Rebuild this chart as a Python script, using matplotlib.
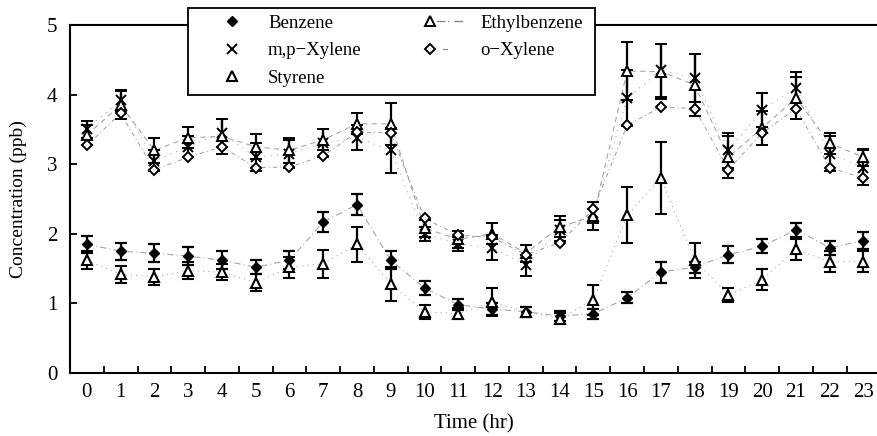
import matplotlib
matplotlib.use("Agg")
import matplotlib.pyplot as plt
from matplotlib.lines import Line2D
from matplotlib.patches import Rectangle
from matplotlib.legend_handler import HandlerLine2DCompound
import numpy as np

plt.rcParams['font.family'] = ['Liberation Serif', 'DejaVu Serif']

hours = list(range(24))

benzene = [1.85, 1.75, 1.72, 1.68, 1.62, 1.52, 1.62, 2.17, 2.42, 1.62, 1.22, 0.98,
           0.92, 0.88, 0.82, 0.85, 1.08, 1.45, 1.52, 1.70, 1.82, 2.06, 1.80, 1.90]
benzene_err = [0.12, 0.12, 0.13, 0.13, 0.13, 0.10, 0.13, 0.15, 0.15, 0.13, 0.10, 0.08,
               0.08, 0.07, 0.07, 0.07, 0.08, 0.15, 0.08, 0.12, 0.10, 0.10, 0.10, 0.12]

styrene = [1.62, 1.42, 1.38, 1.47, 1.45, 1.30, 1.52, 1.57, 1.85, 1.28, 0.88, 0.85,
           1.02, 0.88, 0.78, 1.05, 2.27, 2.80, 1.62, 1.12, 1.34, 1.78, 1.60, 1.60]
styrene_err = [0.13, 0.12, 0.12, 0.12, 0.12, 0.12, 0.15, 0.20, 0.25, 0.25, 0.10, 0.08,
               0.20, 0.07, 0.08, 0.22, 0.40, 0.52, 0.25, 0.10, 0.15, 0.15, 0.15, 0.15]

mp_xylene = [3.50, 3.92, 3.05, 3.25, 3.45, 3.10, 3.15, 3.30, 3.38, 3.20, 2.00, 1.85,
             1.80, 1.55, 2.05, 2.30, 3.95, 4.35, 4.24, 3.20, 3.78, 4.10, 3.15, 2.95]
mp_xylene_err = [0.12, 0.15, 0.15, 0.15, 0.20, 0.20, 0.20, 0.20, 0.18, 0.32, 0.10, 0.10,
                 0.18, 0.15, 0.15, 0.15, 0.40, 0.38, 0.35, 0.25, 0.25, 0.22, 0.25, 0.25]

ethylbenzene = [3.42, 3.85, 3.20, 3.38, 3.40, 3.25, 3.20, 3.35, 3.58, 3.58, 2.08, 1.92,
                2.00, 1.72, 2.10, 2.25, 4.34, 4.33, 4.14, 3.10, 3.52, 3.95, 3.30, 3.10]
ethylbenzene_err = [0.15, 0.20, 0.18, 0.15, 0.25, 0.18, 0.18, 0.15, 0.15, 0.30, 0.12, 0.12,
                    0.15, 0.12, 0.15, 0.20, 0.42, 0.40, 0.45, 0.30, 0.25, 0.30, 0.15, 0.12]

o_xylene = [3.27, 3.73, 2.92, 3.10, 3.25, 2.95, 2.96, 3.12, 3.46, 3.45, 2.22, 1.98,
            1.95, 1.70, 1.87, 2.35, 3.56, 3.82, 3.80, 2.92, 3.45, 3.80, 2.95, 2.80]

x_ticklabels = [str(h) for h in hours]
y_ticks = [0, 1, 2, 3, 4, 5]
series_labels = ['Benzene', 'm,p\u2212Xylene', 'Styrene', 'Ethylbenzene', 'o\u2212Xylene']

W, H = 877, 436
fig = plt.figure(figsize=(W / 100, H / 100), dpi=100)
ax = fig.add_axes([70 / W, 1 - 373 / H, 1 - 70 / W, (373 - 25) / H])

LC = '#a0a0a0'
line_kw = dict(color=LC, lw=0.75, zorder=1)
ax.plot(hours, benzene, ls=(0, (6, 3, 1, 3)), **line_kw)
ax.plot(hours, styrene, ls=(0, (1, 4)), **line_kw)
ax.plot(hours, mp_xylene, ls=(0, (1, 5)), **line_kw)
ax.plot(hours, ethylbenzene, ls=(0, (5, 4)), **line_kw)
ax.plot(hours, o_xylene, ls=(0, (4, 3, 1, 3)), **line_kw)

eb_kw = dict(ecolor='black', elinewidth=1.6, capsize=4.5, capthick=1.6, ls='none', zorder=3)
ax.errorbar(hours, benzene, yerr=benzene_err, fmt='D', ms=5.5, mfc='black', mec='black', **eb_kw)
ax.errorbar(hours, styrene, yerr=styrene_err, fmt='^', ms=7, mfc='white', mec='black', mew=1.5, **eb_kw)
ax.errorbar(hours, mp_xylene, yerr=mp_xylene_err, fmt='x', ms=7, mec='black', mew=1.4, **eb_kw)
ax.errorbar(hours, ethylbenzene, yerr=ethylbenzene_err, fmt='^', ms=7, mfc='white', mec='black', mew=1.4, **eb_kw)
ax.plot(hours, o_xylene, 'D', ms=5.5, mfc='white', mec='black', mew=1.4, ls='none', zorder=4)

ax.set_xlim(-0.5, 23.4)
ax.set_ylim(0, 5)
ax.set_xticks(hours)
ax.set_xticklabels(x_ticklabels)
ax.set_xticks(np.arange(0.5, 23.5, 1), minor=True)
ax.tick_params(axis='x', which='major', length=0, labelsize=15, pad=7)
ax.tick_params(axis='x', which='minor', direction='in', length=5, width=1.3)
ax.set_yticks(y_ticks)
ax.tick_params(axis='y', which='major', direction='in', length=5, width=1.3, labelsize=15, pad=9)
ax.spines['right'].set_visible(False)
for s in ['left', 'bottom', 'top']:
    ax.spines[s].set_linewidth(1.5)

ax.set_xlabel('Time (hr)', fontsize=15, va='center')
ax.set_ylabel('Concentration (ppb)', fontsize=14, va='center')
ax.xaxis.set_label_coords(0.5, (373 - 424) / 348)
ax.yaxis.set_label_coords(-0.064, 0.5)


class MarkerHandler(HandlerLine2DCompound):
    def __init__(self, fm, fl=None, **kw):
        super().__init__(**kw)
        self.fm = fm
        self.fl = fl

    def get_xdata(self, legend, xdescent, ydescent, width, height, fontsize):
        xm = -xdescent + self.fm * width
        xe = -xdescent + (self.fl if self.fl else self.fm) * width
        return np.array([xm, xe]), np.array([xm])


handles = [
    Line2D([], [], marker='D', ms=5.5, mfc='black', mec='black', ls='none'),
    Line2D([], [], marker='x', ms=7, mec='black', mew=1.4, ls='none'),
    Line2D([], [], marker='^', ms=7, mfc='white', mec='black', mew=1.5, ls='none'),
    Line2D([], [], marker='^', ms=7, mfc='white', mec='black', mew=1.4, color='#808080', lw=0.9, ls=(0, (1, 4, 7, 2))),
    Line2D([], [], marker='D', ms=5.5, mfc='white', mec='black', mew=1.4, color='#909090', lw=0.9, ls=(0, (1, 9, 4, 30))),
]
hmap = {handles[0]: MarkerHandler(0.574), handles[1]: MarkerHandler(0.574),
        handles[2]: MarkerHandler(0.574), handles[3]: MarkerHandler(0.36, 0.85),
        handles[4]: MarkerHandler(0.36, 0.85)}

# legend frame (drawn as a rectangle in figure pixels)
frame = Rectangle((188 / W, 1 - 95 / H), (595 - 188) / W, (95 - 8) / H, transform=fig.transFigure,
                  facecolor='white', edgecolor='black', lw=1.3, zorder=9, clip_on=False)
ax.add_patch(frame)

leg = ax.legend(handles, series_labels, ncol=2, loc='upper left',
                bbox_to_anchor=(188 / W, 1 - 9 / H), bbox_transform=fig.transFigure,
                frameon=False, fontsize=13.5,
                labelspacing=0.56, handlelength=3.57, columnspacing=2.35, borderpad=0.3,
                handletextpad=0.4, borderaxespad=0, handler_map=hmap)
leg.set_zorder(10)

fig.savefig('out.png', dpi=100)
